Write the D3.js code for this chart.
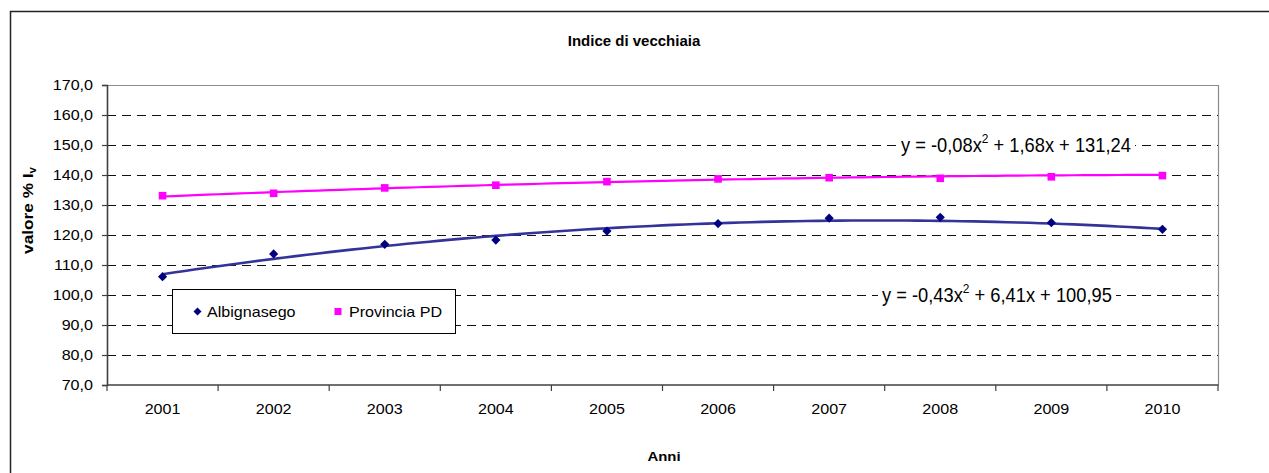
<!DOCTYPE html>
<html>
<head>
<meta charset="utf-8">
<script src="https://cdn.jsdelivr.net/npm/d3@7"></script>
<style>
  html, body { margin: 0; padding: 0; background: #fff; }
  svg { display: block; font-family: "Liberation Sans", Arial, sans-serif; }
</style>
</head>
<body>
<svg id="chart" width="1269" height="473"></svg>
<script>
// ---- data ----
const years = ["2001", "2002", "2003", "2004", "2005", "2006", "2007", "2008", "2009", "2010"];
const albignasego = [106.1, 113.7, 116.9, 118.3, 121.3, 123.8, 125.6, 125.9, 124.1, 121.9];
const provinciaPD = [133.1, 133.9, 135.7, 136.6, 137.8, 138.7, 139.1, 138.9, 139.4, 139.8];
const yTicks = [70, 80, 90, 100, 110, 120, 130, 140, 150, 160, 170];
const albTrendCoef = [-0.43, 6.41, 100.95];   // a, b, c of y = a x^2 + b x + c
const provTrendCoef = [-0.08, 1.68, 131.24];
const albEquation = ["y = -0,43x", "2", " + 6,41x + 100,95"];
const provEquation = ["y = -0,08x", "2", " + 1,68x + 131,24"];
const seriesNames = ["Albignasego", "Provincia PD"];
const titleText = "Indice di vecchiaia";
const xTitle = "Anni";

(function () {
// ---- layout ----
const svg = d3.select("#chart");
const pLeft = 107, pRight = 1218, pTop = 85, pBottom = 385;
const navy = "#000080", trendBlue = "#333399", pink = "#FF00FF";
const stretch = 1.15;

// outer frame
svg.append("rect").attr("x", 10.5).attr("y", 11.5).attr("width", 1300).attr("height", 520)
  .attr("fill", "none").attr("stroke", "#222").attr("stroke-width", 1.5);

const x = d3.scaleBand().domain(years).range([pLeft, pRight]).padding(0);
const y = d3.scaleLinear().domain([70, 170]).range([pBottom, pTop]);
const xc = d => x(d) + x.bandwidth() / 2;
const xi = d3.scaleLinear().domain([1, years.length]).range([xc(years[0]), xc(years[years.length - 1])]);

// gridlines
svg.append("g").selectAll("line").data(yTicks.filter(t => t > 70 && t < 170)).join("line")
  .attr("x1", pLeft).attr("x2", pRight)
  .attr("y1", d => Math.round(y(d)) + 0.5).attr("y2", d => Math.round(y(d)) + 0.5)
  .attr("stroke", "#111").attr("stroke-width", 1).attr("stroke-dasharray", "9,6");

// plot border (top/right)
svg.append("path")
  .attr("d", `M${pLeft},${pTop + 0.5}H${pRight + 0.5}V${pBottom}`)
  .attr("fill", "none").attr("stroke", "#8c8c8c").attr("stroke-width", 1.2);

// y axis
const yAxis = d3.axisLeft(y).tickValues(yTicks).tickSize(5).tickPadding(9)
  .tickFormat(d => d.toFixed(1).replace(".", ","));
const gy = svg.append("g").attr("transform", `translate(${pLeft},0)`).call(yAxis);
gy.select(".domain").attr("stroke", "#404040").attr("stroke-width", 1.6);
gy.selectAll(".tick line").attr("stroke", "#404040").attr("stroke-width", 1.2);
gy.selectAll(".tick text").attr("font-size", 14).attr("fill", "#000")
  .attr("font-family", "Liberation Sans, Arial, sans-serif")
  .each(function() {
    const t = d3.select(this);
    const xx = +t.attr("x");
    t.attr("transform", `translate(${xx},0) scale(${stretch},1)`).attr("x", 0);
  });

// x axis (ticks at category boundaries)
const gx = svg.append("g").attr("transform", `translate(0,${pBottom})`);
gx.append("line").attr("x1", pLeft).attr("x2", pRight + 0.5).attr("y1", 0).attr("y2", 0)
  .attr("stroke", "#404040").attr("stroke-width", 1.6);
const bounds = years.map(d => x(d)).concat([x(years[years.length - 1]) + x.bandwidth()]);
gx.selectAll("line.tk").data(bounds).join("line").attr("class", "tk")
  .attr("x1", d => d).attr("x2", d => d).attr("y1", 0).attr("y2", 6)
  .attr("stroke", "#404040").attr("stroke-width", 1.2);
gx.selectAll("text").data(years).join("text")
  .attr("transform", d => `translate(${xc(d)},29) scale(${stretch},1)`)
  .attr("text-anchor", "middle").attr("font-size", 14).attr("fill", "#000")
  .text(d => d);

// titles
svg.append("text").attr("x", 634).attr("y", 45.5).attr("text-anchor", "middle")
  .attr("font-size", 15).attr("font-weight", "bold").text(titleText);
svg.append("text").attr("transform", `translate(664,461) scale(${stretch},1)`)
  .attr("text-anchor", "middle").attr("font-size", 13).attr("font-weight", "bold").text(xTitle);
const yt = svg.append("text").attr("transform", `translate(33,210.5) rotate(-90) scale(${stretch},1)`)
  .attr("text-anchor", "middle").attr("font-size", 15).attr("font-weight", "bold");
yt.append("tspan").text("valore %  I");
yt.append("tspan").attr("font-size", 10).attr("dy", 3).text("v");

// trend lines
function trendPts(c) {
  const pts = [];
  for (let i = 0; i <= 90; i++) {
    const t = 1 + i * 0.1;
    pts.push([t, c[0] * t * t + c[1] * t + c[2]]);
  }
  return pts;
}
const line = d3.line().x(d => xi(d[0])).y(d => y(d[1]));
svg.append("path").attr("d", line(trendPts(provTrendCoef)))
  .attr("fill", "none").attr("stroke", pink).attr("stroke-width", 2.2);
svg.append("path").attr("d", line(trendPts(albTrendCoef)))
  .attr("fill", "none").attr("stroke", trendBlue).attr("stroke-width", 2.6);

// markers
const diamond = (s) => `M0,${-s}L${s},0L0,${s}L${-s},0Z`;
svg.append("g").selectAll("path").data(albignasego).join("path")
  .attr("transform", (d, i) => `translate(${xc(years[i])},${y(d)})`)
  .attr("d", diamond(4.6)).attr("fill", navy);
svg.append("g").selectAll("rect").data(provinciaPD).join("rect")
  .attr("x", (d, i) => xc(years[i]) - 3.8).attr("y", d => y(d) - 3.8)
  .attr("width", 7.6).attr("height", 7.6).attr("fill", pink);

// equations
function equation(parts, xPos, yMid, width) {
  const g = svg.append("g");
  const bg = g.append("rect").attr("fill", "#fff");
  const t = g.append("text").attr("font-size", 20).attr("fill", "#000")
    .attr("transform", `translate(${xPos},${yMid + 7})`);
  t.append("tspan").text(parts[0]);
  t.append("tspan").attr("font-size", 13).attr("dy", -9).text(parts[1]);
  t.append("tspan").attr("dy", 9).text(parts[2]);
  const bb0 = t.node().getBBox();
  const sx = width / bb0.width;
  t.attr("transform", `translate(${xPos},${yMid + 7}) scale(${sx},1)`);
  bg.attr("x", xPos - 4).attr("y", yMid + 7 + bb0.y).attr("width", width + 8).attr("height", bb0.height);
}
equation(provEquation, 901, y(150), 230);
equation(albEquation, 882, y(100), 230);

// legend
const lg = svg.append("g");
lg.append("rect").attr("x", 172.5).attr("y", 289.5).attr("width", 283).attr("height", 44)
  .attr("fill", "#fff").attr("stroke", "#000").attr("stroke-width", 1);
lg.append("path").attr("transform", "translate(197.5,311.5)").attr("d", diamond(4)).attr("fill", navy);
lg.append("text").attr("transform", `translate(207,316.5) scale(${stretch},1)`)
  .attr("font-size", 14).text(seriesNames[0]);
lg.append("rect").attr("x", 334.5).attr("y", 308).attr("width", 7).attr("height", 7).attr("fill", pink);
lg.append("text").attr("transform", `translate(349,316.5) scale(${stretch},1)`)
  .attr("font-size", 14).text(seriesNames[1]);
})();
</script>
</body>
</html>
